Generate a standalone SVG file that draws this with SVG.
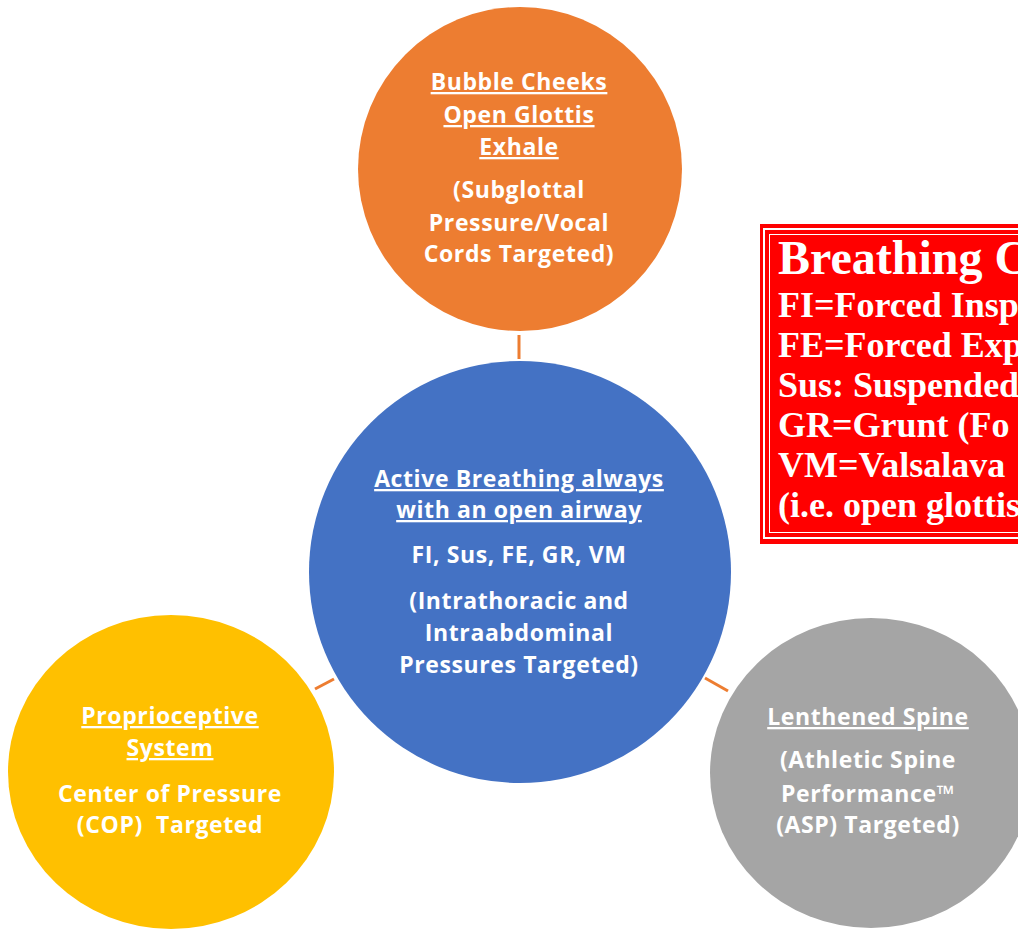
<svg xmlns="http://www.w3.org/2000/svg" width="1018" height="930" viewBox="0 0 1018 930">
<style>
.lbl{font-family:"Open Sans","DejaVu Sans",sans-serif;font-weight:700;font-size:23px;letter-spacing:0.6px;fill:#ffffff;text-anchor:middle}
.u{text-decoration:underline}
.key{font-family:"Liberation Serif","Times New Roman",serif;font-weight:700;fill:#ffffff}
.conn{stroke:#ED7D31;stroke-width:3;fill:none}
</style>
<rect width="1018" height="930" fill="#ffffff"/>
<g id="connectors">
<line class="conn" x1="519" y1="335" x2="519" y2="359"/>
<line class="conn" x1="315" y1="689" x2="334" y2="679"/>
<line class="conn" x1="705" y1="678" x2="728" y2="691"/>
</g>
<g id="node-bubble">
<circle cx="520" cy="169" r="162" fill="#ED7D31"/>
<text class="lbl u" x="519" y="90">Bubble Cheeks</text>
<text class="lbl u" x="519" y="123">Open Glottis</text>
<text class="lbl u" x="519" y="155">Exhale</text>
<text class="lbl" x="519" y="198">(Subglottal</text>
<text class="lbl" x="519" y="231">Pressure/Vocal</text>
<text class="lbl" x="519" y="262">Cords Targeted)</text>
</g>
<g id="node-active">
<circle cx="520" cy="572" r="211" fill="#4472C4"/>
<text class="lbl u" x="519" y="487">Active Breathing always</text>
<text class="lbl u" x="519" y="518">with an open airway</text>
<text class="lbl" x="519" y="563">FI, Sus, FE, GR, VM</text>
<text class="lbl" x="519" y="609">(Intrathoracic and</text>
<text class="lbl" x="519" y="641">Intraabdominal</text>
<text class="lbl" x="519" y="673">Pressures Targeted)</text>
</g>
<g id="node-proprioceptive">
<ellipse cx="171" cy="772" rx="163" ry="157" fill="#FFC000"/>
<text class="lbl u" x="170" y="724">Proprioceptive</text>
<text class="lbl u" x="170" y="756">System</text>
<text class="lbl" x="170" y="802">Center of Pressure</text>
<text class="lbl" x="170" y="833" xml:space="preserve">(COP)  Targeted</text>
</g>
<g id="node-spine">
<ellipse cx="871" cy="773" rx="161" ry="155" fill="#A5A5A5"/>
<text class="lbl u" x="868" y="725">Lenthened Spine</text>
<text class="lbl" x="868" y="768">(Athletic Spine</text>
<text class="lbl" x="868" y="802">Performance™</text>
<text class="lbl" x="868" y="833">(ASP) Targeted)</text>
</g>
<g id="key-box">
<rect x="760" y="224" width="270" height="320" fill="#FF0000"/>
<rect x="764" y="229" width="270" height="309" fill="none" stroke="#ffffff" stroke-width="2"/>
<rect x="769.5" y="234.5" width="270" height="298" fill="none" stroke="#ffffff" stroke-width="1"/>
<text class="key" x="778" y="274" font-size="48">Breathing C</text>
<text class="key" x="778" y="317" font-size="36">FI=Forced Insp</text>
<text class="key" x="778" y="357" font-size="36">FE=Forced Exp</text>
<text class="key" x="778" y="397" font-size="36">Sus: Suspended</text>
<text class="key" x="778" y="437" font-size="36">GR=Grunt (Fo</text>
<text class="key" x="778" y="477" font-size="36">VM=Valsalava</text>
<text class="key" x="778" y="517" font-size="36">(i.e. open glottis</text>
</g>
</svg>
